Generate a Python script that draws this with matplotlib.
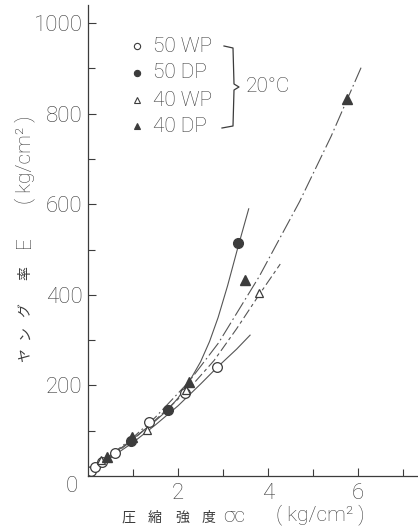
import matplotlib.pyplot as plt
from matplotlib.lines import Line2D

# measured points (compressive strength, Young's modulus)
wp50_x = [0.06, 0.16, 0.31, 0.60, 1.35, 2.15, 2.87]
wp50_y = [11, 20, 31, 51, 119, 183, 240]
dp50_x = [0.95, 1.77, 3.33]
dp50_y = [78, 146, 514]
wp40_x = [0.28, 1.31, 2.18, 3.80]
wp40_y = [35, 101, 190, 404]
dp40_x = [0.42, 0.97, 2.24, 3.48, 5.76]
dp40_y = [42, 86, 208, 433, 832]

# fitted curves
fit_wp50_x = [0, 0.5, 1.0, 1.5, 2.0, 2.5, 2.87, 3.3, 3.6]
fit_wp50_y = [12, 40, 74, 113, 155, 203, 240, 280, 311]
fit_dp50_x = [0, 0.5, 1.0, 1.5, 1.77, 2.0, 2.24, 2.5, 2.7, 2.89, 3.1, 3.33, 3.57]
fit_dp50_y = [15, 44, 82, 122, 146, 172, 207, 252, 297, 350, 420, 505, 590]
fit_wp40_x = [0, 0.5, 1.0, 1.5, 2.2, 2.8, 3.3, 3.8, 4.27]
fit_wp40_y = [12, 42, 80, 124, 188, 255, 325, 400, 468]
fit_dp40_x = [0, 0.5, 1.0, 1.5, 2.24, 2.9, 3.8, 4.7, 5.4, 6.08]
fit_dp40_y = [15, 46, 85, 130, 208, 294, 440, 606, 750, 905]

legend_labels = ["50 WP", "50 DP", "40 WP", "40 DP"]
ylabel_jp = ["ヤ", "ン", "グ", "率"]
xlabel_jp = ["圧", "縮", "強", "度"]

plt.rcParams['font.family'] = ['Roboto', 'Noto Sans CJK JP', 'DejaVu Sans']
ink = '#3c3c3c'
W, H = 418, 530

def fx(px):
    return px / W

def fy(py):
    return 1 - py / H

fig = plt.figure(figsize=(W / 100, H / 100), dpi=100)
ax = fig.add_axes([fx(88), fy(476), fx(418) - fx(88), fy(5) - fy(476)])

lc = '#555555'
ax.plot(fit_wp50_x, fit_wp50_y, color=lc, lw=0.8)
ax.plot(fit_dp50_x, fit_dp50_y, color=lc, lw=0.8)
ax.plot(fit_wp40_x, fit_wp40_y, color=lc, lw=0.8, linestyle=(0, (9, 3, 3, 3)))
ax.plot(fit_dp40_x, fit_dp40_y, color=lc, lw=0.8, linestyle=(0, (14, 3, 1.5, 3)))

ax.plot(wp50_x, wp50_y, 'o', ms=7, mfc='white', mec=ink, mew=0.9, ls='none')
ax.plot(dp50_x, dp50_y, 'o', ms=7, mfc=ink, mec=ink, ls='none')
ax.plot(wp40_x, wp40_y, '^', ms=6, mfc='white', mec=ink, mew=0.9, ls='none')
ax.plot(dp40_x, dp40_y, '^', ms=7, mfc=ink, mec=ink, ls='none')

ax.set_xlim(0, 7.33)
ax.set_ylim(0, 1040)
for s in ['top', 'right']:
    ax.spines[s].set_visible(False)
for s in ['left', 'bottom']:
    ax.spines[s].set_color(ink)
    ax.spines[s].set_linewidth(0.9)

ax.set_xticks([2, 4, 6])
ax.set_xticks([1, 3, 5, 7], minor=True)
ax.set_yticks([200, 400, 600, 800, 1000])
ax.set_yticks([100, 300, 500, 700, 900], minor=True)
ax.tick_params(which='both', direction='in', colors=ink, labelcolor=ink,
               labelsize=16, width=0.8)
ax.tick_params(which='major', length=6)
ax.tick_params(which='minor', length=5)
ax.tick_params(axis='x', pad=5)
ax.tick_params(axis='y', pad=4)
for t in ax.get_xticklabels() + ax.get_yticklabels():
    t.set_fontweight('light')

fig.text(fx(72), fy(487), "0", fontsize=16, color=ink, ha='center', va='center',
         fontweight='light')

# legend
mk = [dict(marker='o', mfc='white'), dict(marker='o', mfc=ink),
      dict(marker='^', mfc='white'), dict(marker='^', mfc=ink)]
rows = [46, 73, 100, 126]
for lab, m, r in zip(legend_labels, mk, rows):
    fig.add_artist(Line2D([fx(137)], [fy(r)], ls='none', ms=4.5, mec=ink,
                          mew=0.8, transform=fig.transFigure, **m))
    fig.text(fx(153), fy(r), lab, fontsize=15, color=ink, va='center',
             fontweight='light')

bx = [fx(224), fx(233), fx(234), fx(239), fx(234), fx(233), fx(222)]
by = [fy(46), fy(48), fy(84), fy(87), fy(90), fy(126), fy(128)]
fig.add_artist(Line2D(bx, by, color=ink, lw=0.9, transform=fig.transFigure))
fig.text(fx(246), fy(86), "20°C", fontsize=15, color=ink, va='center',
         fontweight='light')

# axis titles
for ch, py in zip(ylabel_jp, [355, 333, 310, 273]):
    fig.text(fx(25), fy(py), ch, rotation=90, fontsize=10, color=ink,
             ha='center', va='center', family=['Noto Sans CJK JP'])
fig.text(fx(25), fy(242), "E", rotation=90, fontsize=15, color=ink,
         ha='center', va='center', fontweight='light')
fig.text(fx(25), fy(160), "( kg/cm² )", rotation=90, fontsize=15, color=ink,
         ha='center', va='center', fontweight='light')

for ch, px in zip(xlabel_jp, [128, 155, 182, 208]):
    fig.text(fx(px), fy(518), ch, fontsize=10, color=ink,
             ha='center', va='center', family=['Noto Sans CJK JP'])
fig.text(fx(234), fy(516), "σc", fontsize=15, color=ink,
         ha='center', va='center', fontweight='light')
fig.text(fx(320), fy(515), "( kg/cm² )", fontsize=15, color=ink,
         ha='center', va='center', fontweight='light')

fig.savefig('out.png', dpi=100)
